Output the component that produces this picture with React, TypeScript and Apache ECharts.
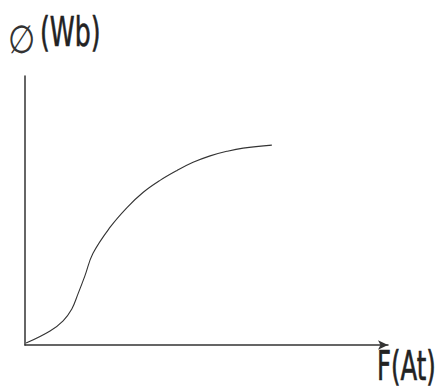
import React, { useEffect, useRef } from "react";
import * as echarts from "echarts";

// Magnetisation curve: flux (Wb) versus magnetomotive force (At), relative units 0-100
const mmf = [0.3, 6.9, 10.5, 12.9, 14.6, 16.5, 18.7, 23.4, 28.1, 32.5, 37.2, 41.9, 46.3, 51.0, 55.6, 60.1, 68.0];
const flux = [0.7, 5.2, 9.0, 13.4, 19.0, 25.7, 34.0, 43.7, 51.1, 56.7, 61.2, 64.9, 67.9, 70.3, 72.0, 73.2, 74.3];

const yLabelSymbol = "∅";
const yLabelUnit = "(Wb)";
const xLabel = "F(At)";

const FONT = "'DejaVu Sans Condensed', 'Liberation Sans Narrow', 'DejaVu Sans', sans-serif";

export default function App() {
  const ref = useRef<HTMLDivElement>(null);
  useEffect(() => {
    if (!ref.current) return;
    const chart = echarts.init(ref.current, null, { renderer: "svg" });
    chart.setOption({
      animation: false,
      backgroundColor: "#ffffff",
      grid: { left: 25, top: 76, right: 52, bottom: 45 },
      xAxis: {
        type: "value",
        min: 0,
        max: 100,
        axisLine: {
          show: true,
          symbol: ["none", "arrow"],
          symbolSize: [7, 10],
          lineStyle: { color: "#333", width: 1.5 },
        },
        axisTick: { show: false },
        axisLabel: { show: false },
        splitLine: { show: false },
      },
      yAxis: {
        type: "value",
        min: 0,
        max: 100,
        axisLine: { show: true, lineStyle: { color: "#333", width: 1.5 } },
        axisTick: { show: false },
        axisLabel: { show: false },
        splitLine: { show: false },
      },
      series: [
        {
          type: "line",
          data: mmf.map((x, i) => [x, flux[i]]),
          smooth: 0.4,
          showSymbol: false,
          lineStyle: { color: "#333", width: 1.1 },
        },
      ],
      graphic: [
        {
          type: "text",
          x: 8,
          y: 20,
          scaleX: 1.02,
          scaleY: 1.15,
          style: {
            text: yLabelSymbol,
            fontSize: 34,
            fontFamily: FONT,
            fill: "#333",
            verticalAlign: "top",
            align: "left",
          },
        },
        {
          type: "text",
          x: 40,
          y: 11,
          scaleX: 1,
          scaleY: 1.48,
          style: {
            text: yLabelUnit,
            fontSize: 28,
            fontFamily: FONT,
            fill: "#222",
            stroke: "#222",
            lineWidth: 0.4,
            verticalAlign: "top",
            align: "left",
          },
        },
        {
          type: "text",
          x: 377,
          y: 344,
          scaleX: 1.04,
          scaleY: 1.6,
          style: {
            text: xLabel,
            fontSize: 26,
            fontFamily: FONT,
            fill: "#222",
            stroke: "#222",
            lineWidth: 0.4,
            verticalAlign: "top",
            align: "left",
          },
        },
      ],
    });
    return () => chart.dispose();
  }, []);
  return (
    <div
      ref={ref}
      style={{ position: "absolute", left: 0, top: 0, width: 440, height: 390 }}
    />
  );
}
